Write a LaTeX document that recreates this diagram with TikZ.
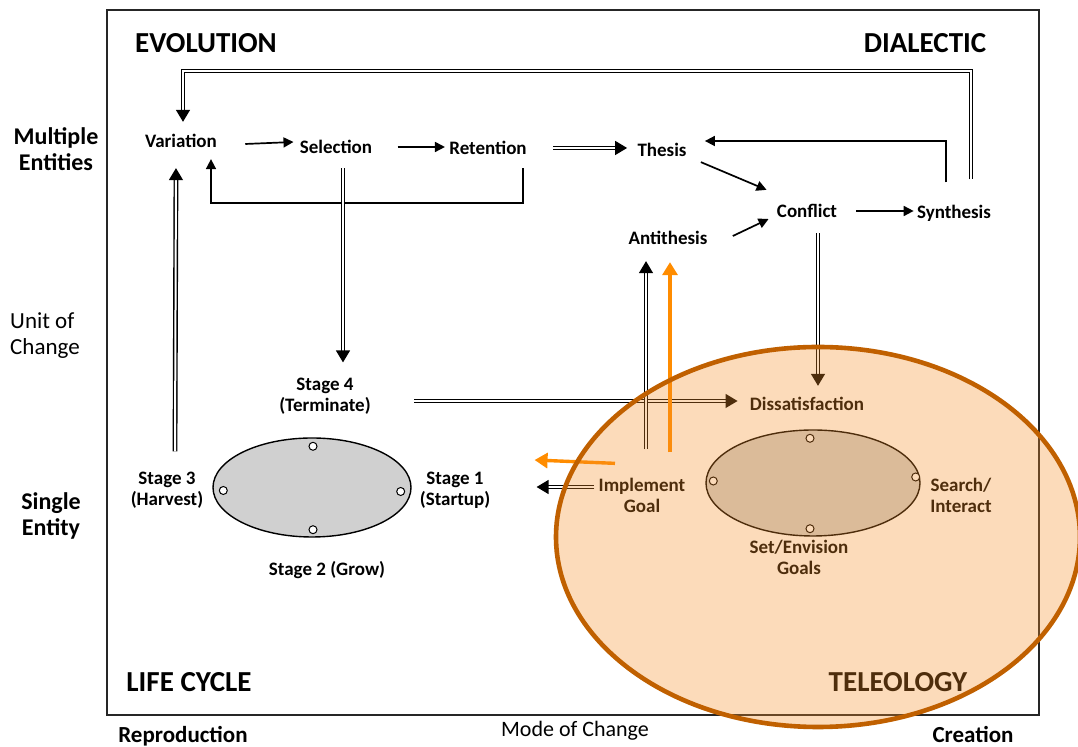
\documentclass[tikz,border=0pt]{standalone}
\usepackage{fontspec}
\setmainfont{Carlito}
\usetikzlibrary{arrows.meta,calc,shapes.geometric}

\definecolor{telfill}{RGB}{245,143,40}
\definecolor{teledge}{RGB}{192,96,0}
\definecolor{arrorange}{RGB}{255,140,0}
\definecolor{cyclegray}{RGB}{208,208,208}

\begin{document}
\begin{tikzpicture}[x=0.5pt, y=-0.5pt,
  lb/.style={font=\bfseries\fontsize{9.5}{10.5}\selectfont, align=center, inner sep=0pt},
  quad/.style={font=\bfseries\fontsize{14.5}{16}\selectfont, inner sep=0pt},
  axis/.style={font=\bfseries\fontsize{12}{13}\selectfont, align=center, inner sep=0pt},
  sarr/.style={line width=0.85pt, -{Triangle[length=5pt,width=5pt]}},
  dbl/.style={draw, double, double distance=1pt, line width=0.7pt},
  darr/.style={dbl, -{Triangle[length=6pt,width=7pt]}},
  oarr/.style={arrorange, line width=1.7pt, -{Triangle[length=6.5pt,width=7.5pt]}},
  cyc/.style={ellipse, draw, line width=0.7pt, fill=cyclegray, inner sep=0pt},
  port/.style={circle, draw, fill=white, inner sep=0pt, minimum size=4pt, line width=0.5pt}]

  \useasboundingbox (0,0) rectangle (1078,747);

  % frame, quadrants and axes
  \draw[line width=0.75pt, black!85] (107,10) rectangle (1039,715);
  \node[quad] (evo) at (206,43) {EVOLUTION};
  \node[quad] (dia) at (925,43) {DIALECTIC};
  \node[quad] (life) at (189,682) {LIFE CYCLE};
  \node[quad] (tel) at (898,682) {TELEOLOGY};

  \node[axis] (multi) at (56,149) {Multiple\\Entities};
  \node[font=\fontsize{11.5}{13}\selectfont, align=left, inner sep=0pt] (unit) at (45,336) {Unit of\\Change};
  \node[axis] (single) at (51,516) {Single\\Entity};
  \node[font=\bfseries\fontsize{11.5}{13}\selectfont, inner sep=0pt] (repro) at (183,736) {Reproduction};
  \node[font=\fontsize{11}{13}\selectfont, inner sep=0pt] (mode) at (575,731) {Mode of Change};
  \node[font=\bfseries\fontsize{11.5}{13}\selectfont, inner sep=0pt] (crea) at (973,735) {Creation};

  % evolution and dialectic
  \node[lb] (var) at (181,141) {Variation};
  \node[lb] (sel) at (336,147) {Selection};
  \node[lb] (ret) at (488,148) {Retention};
  \node[lb] (the) at (662,150) {Thesis};
  \node[lb] (con) at (807,211) {Conflict};
  \node[lb] (syn) at (954,213) {Synthesis};
  \node[lb] (anti) at (668,238) {Antithesis};

  % life cycle
  \node[lb] (st4) at (325,396) {Stage 4\\(Terminate)};
  \node[cyc, minimum width=99pt, minimum height=49.5pt] (cyc) at (312,487.5) {};
  \node[lb] (st3) at (167,490) {Stage 3\\(Harvest)};
  \node[lb] (st1) at (455,490) {Stage 1\\(Startup)};
  \node[lb] (st2) at (327,570) {Stage 2 (Grow)};
  \node[port] (p1) at ($(cyc.north)+(1,9)$) {};
  \node[port] (p2) at ($(cyc.west)+(11,3)$) {};
  \node[port] (p3) at ($(cyc.east)+(-11,4)$) {};
  \node[port] (p4) at ($(cyc.south)+(1,-8)$) {};

  % teleology
  \node[lb] (diss) at (807,404) {Dissatisfaction};
  \node[lb] (impl) at (642,495) {Implement\\Goal};
  \node[cyc, minimum width=107pt, minimum height=53pt] (goal) at (813,483) {};
  \node[lb] (srch) at (961,495) {Search/\\Interact};
  \node[lb] (setg) at (799,557) {Set/Envision\\Goals};
  \node[port] (q1) at ($(goal.north)+(-3,9)$) {};
  \node[port] (q2) at ($(goal.west)+(8,-2)$) {};
  \node[port] (q3) at ($(goal.east)+(-5,-6)$) {};
  \node[port] (q4) at ($(goal.south)+(-3,-8)$) {};

  % connectors
  \coordinate (topl) at (183,71);
  \draw[darr] ($(syn.north)+(17,-25)$) |- (topl) -- ($(var.north)+(2,-12)$);
  \draw[sarr] ($(syn.north)+(-8,-22)$) |- ($(the.east)+(18,-9)$);
  \draw[sarr] ($(var.east)+(28,3)$) -- ($(sel.west)+(-6,-5)$);
  \draw[sarr] ($(sel.east)+(25,0)$) -- ($(ret.west)+(-4,-1)$);
  \draw[darr] ($(ret.east)+(26,0)$) -- ($(the.west)+(-10,-2)$);
  \draw[sarr] ($(ret.south)+(35,13)$) -- ++(0,35) -| ($(var.south)+(30,11)$);
  \draw[sarr] ($(the.south east)+(14,5)$) -- ($(con.north west)+(-10,-14)$);
  \draw[sarr] ($(anti.east)+(25,-2)$) -- ($(con.west)+(-8,8)$);
  \draw[sarr] ($(con.east)+(19,0)$) -- ($(syn.west)+(-3,-2)$);
  \draw[darr] ($(sel.south)+(7,14)$) -- ($(st4.north)+(18,-15)$);
  \draw[darr] ($(st4.east)+(43,5)$) -- ($(diss.west)+(-12,-3)$);
  \draw[darr] ($(con.south)+(11,15)$) -- ($(diss.north)+(11,-11)$);
  \draw[darr] ($(st3.north)+(8,-20)$) -- ($(var.south)+(-5,20)$);
  \draw[darr] ($(impl.north)+(4,-28)$) -- ($(anti.south)+(-22,16)$);
  \draw[darr] ($(impl.west)+(-4,-8)$) -- ($(st1.east)+(46,-3)$);
  \draw[oarr] ($(impl.north)+(28,-25)$) -- ($(anti.south)+(2,17)$);
  \draw[oarr] ($(impl.north)+(-27,-14)$) -- ($(st1.east)+(44,-30)$);

  % teleology overlay
  \fill[telfill, fill opacity=0.32] (818,537) ellipse [x radius=131pt, y radius=95pt];
  \draw[teledge, line width=2.3pt] (818,537) ellipse [x radius=131pt, y radius=95pt];
\end{tikzpicture}
\end{document}
